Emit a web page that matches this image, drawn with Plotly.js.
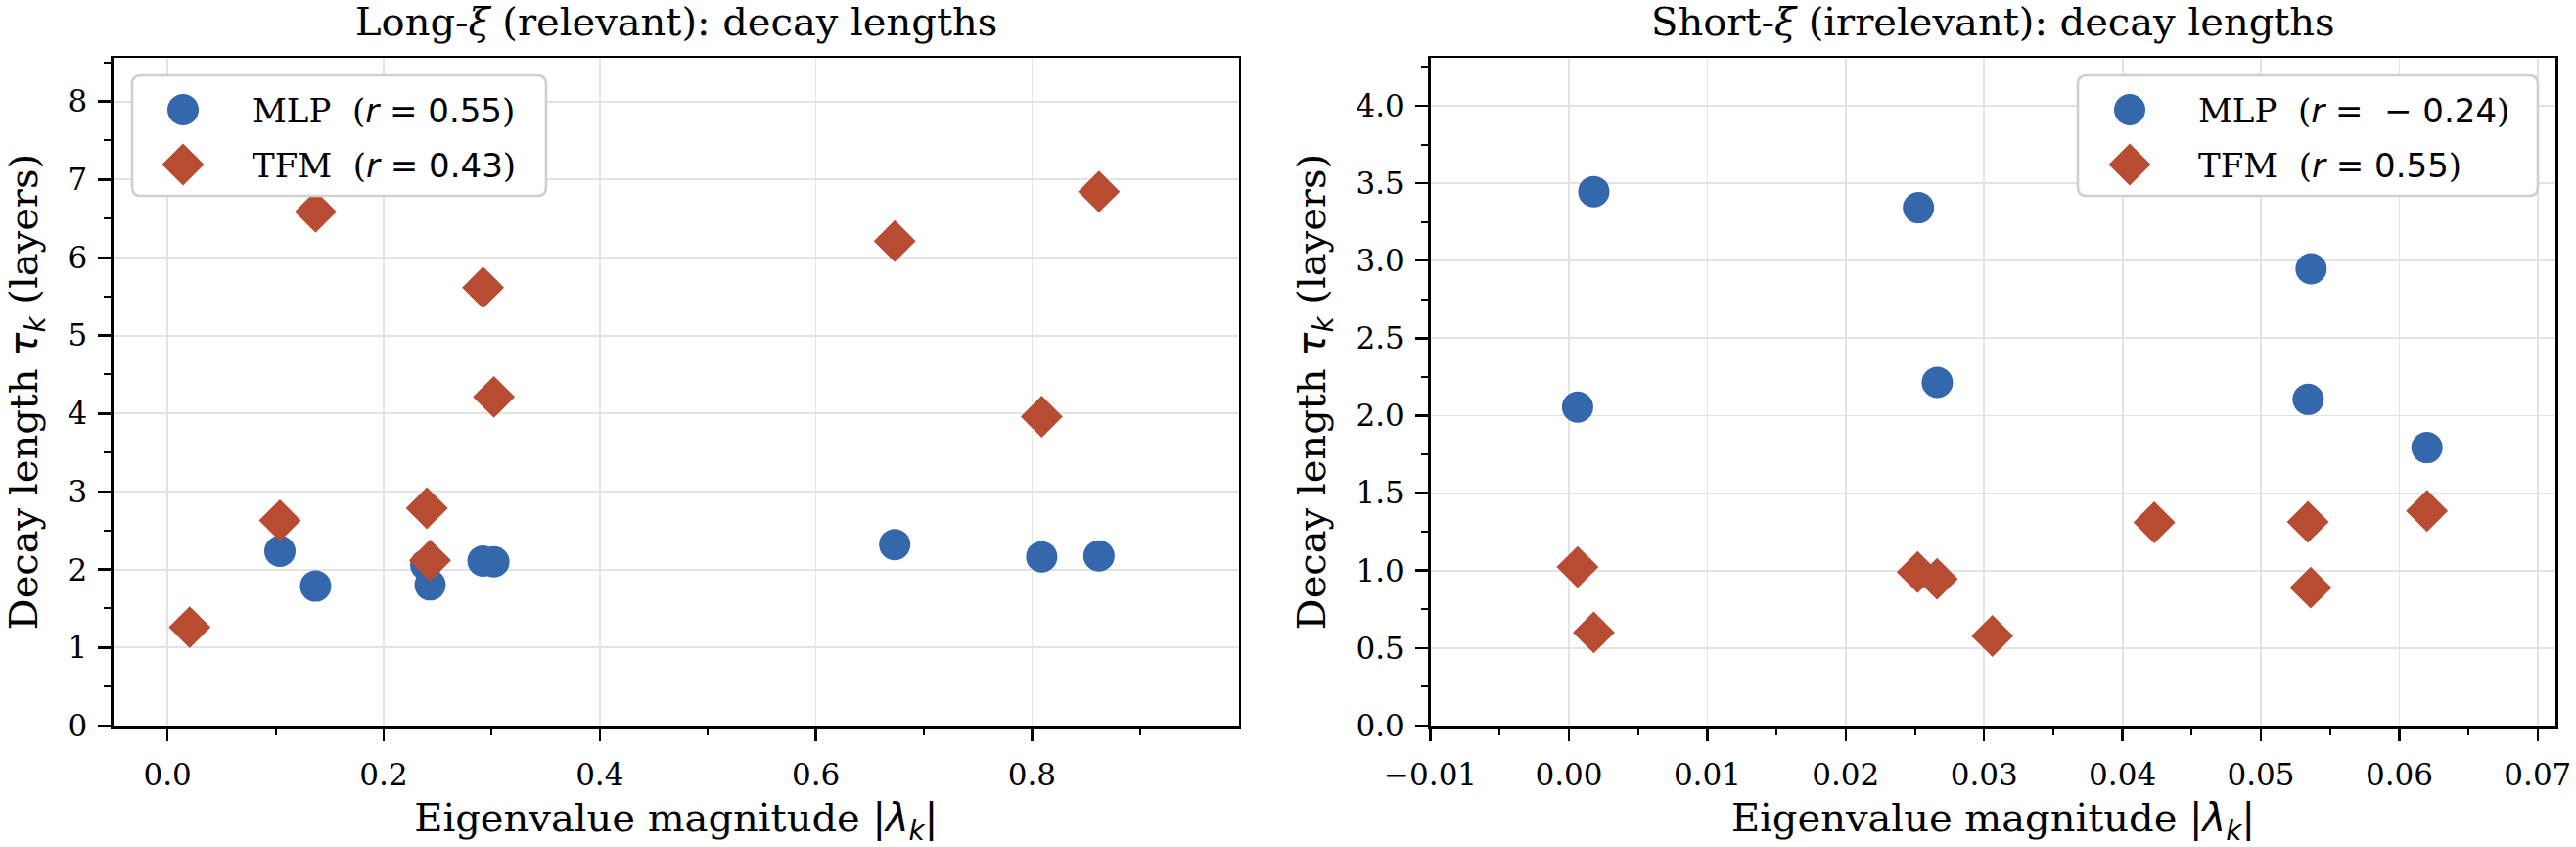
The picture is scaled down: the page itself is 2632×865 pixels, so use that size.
<!DOCTYPE html>
<html>
<head>
<meta charset="utf-8">
<script src="https://cdn.plot.ly/plotly-3.0.1.min.js"></script>
<style>
  html, body { margin: 0; padding: 0; background: #ffffff; }
  #chart { width: 2632px; height: 865px; }
</style>
</head>
<body>
<div id="chart"></div>
<script>
// Eigenvalue magnitude |λ_k| vs decay length τ_k, for the long-ξ (relevant)
// and short-ξ (irrelevant) modes of the MLP and transformer (TFM) models.

const seriesNames = ['MLP', 'TFM'];
const seriesColors = ['#3567ac', '#b74c32'];

// Long-ξ (relevant) modes
const longMlpLambda = [0.104, 0.137, 0.239, 0.243, 0.292, 0.302, 0.673, 0.809, 0.862];
const longMlpTau    = [2.234, 1.787, 2.06, 1.803, 2.11, 2.10, 2.32, 2.163, 2.175];
const longTfmLambda = [0.0205, 0.104, 0.137, 0.240, 0.243, 0.292, 0.302, 0.673, 0.809, 0.862];
const longTfmTau    = [1.26, 2.63, 6.586, 2.787, 2.117, 5.615, 4.213, 6.21, 3.96, 6.845];
const longCorr      = ['0.55', '0.43'];

// Short-ξ (irrelevant) modes
const shortMlpLambda = [0.00063, 0.0018, 0.02526, 0.02662, 0.05342, 0.05363, 0.0620];
const shortMlpTau    = [2.055, 3.446, 3.342, 2.215, 2.105, 2.948, 1.794];
const shortTfmLambda = [0.00063, 0.0018, 0.0252, 0.0266, 0.0306, 0.0423, 0.0534, 0.0536, 0.0620];
const shortTfmTau    = [1.023, 0.601, 0.99, 0.947, 0.578, 1.311, 1.315, 0.89, 1.385];
const shortCorr      = ['\u22120.24', '0.55'];

const panelTitles = ['Long-<i>ξ</i> (relevant): decay lengths', 'Short-<i>ξ</i> (irrelevant): decay lengths'];

// ---- page geometry (pixels) ----
const W = 2632, H = 865;
const plotTop = 59.3, plotBottom = 741;
const leftPlot  = [116, 1265.6];
const rightPlot = [1461.6, 2611.2];
const px = v => v / W;
const py = v => 1 - v / H;

const SERIF = 'DejaVu Serif';
const SANS = 'DejaVu Sans';
const math = s => '<span style="font-family:' + SANS + '">' + s + '</span>';

const markerFor = i => i === 0
  ? { symbol: 'circle', size: 32, color: seriesColors[0], line: { width: 0 } }
  : { symbol: 'diamond', size: 33, color: seriesColors[1], line: { width: 0 } };

function scatter(x, y, i, xa, ya) {
  return {
    type: 'scatter', mode: 'markers', x: x, y: y,
    name: seriesNames[i], xaxis: xa, yaxis: ya,
    marker: markerFor(i), showlegend: false, hoverinfo: 'skip', cliponaxis: true
  };
}

const traces = [
  scatter(longMlpLambda, longMlpTau, 0, 'x', 'y'),
  scatter(longTfmLambda, longTfmTau, 1, 'x', 'y'),
  scatter(shortMlpLambda, shortMlpTau, 0, 'x2', 'y2'),
  scatter(shortTfmLambda, shortTfmTau, 1, 'x2', 'y2')
];

// axis limits follow the data: a little head-room above and to the right
const maxOf = arrs => Math.max.apply(null, [].concat.apply([], arrs));
const longXRange  = [-0.05, maxOf([longMlpLambda, longTfmLambda]) * 1.15];
const shortXRange = [-0.01, maxOf([shortMlpLambda, shortTfmLambda]) * 1.15];
const longYRange  = [0, maxOf([longMlpTau, longTfmTau]) * 1.25];
const shortYRange = [0, maxOf([shortMlpTau, shortTfmTau]) * 1.25];

const tickFont = { family: SERIF, size: 31, color: '#000' };
const labelFont = { family: SERIF, size: 40, color: '#000' };

function xAxis(domain, range, dtick, fmt, anchor) {
  return {
    domain: domain, range: range, anchor: anchor,
    tick0: 0, dtick: dtick, tickformat: fmt,
    ticks: 'outside', ticklen: 13, tickwidth: 2.5, tickcolor: '#000',
    minor: { dtick: dtick / 2, ticks: 'outside', ticklen: 7, tickwidth: 2, tickcolor: '#000', showgrid: false },
    showline: true, linecolor: '#000', linewidth: 2.6, mirror: true,
    showgrid: true, gridcolor: '#e3e3e3', gridwidth: 1.8,
    zeroline: false, tickfont: tickFont, ticklabelstandoff: 8,
    title: { text: 'Eigenvalue magnitude ' + math('|<i>λ</i><sub><i>k</i></sub>|'), font: labelFont, standoff: 14 },
    fixedrange: true
  };
}
function yAxis(domain, range, dtick, fmt, anchor) {
  return {
    domain: domain, range: range, anchor: anchor,
    tick0: 0, dtick: dtick, tickformat: fmt,
    ticks: 'outside', ticklen: 13, tickwidth: 2.5, tickcolor: '#000',
    minor: { dtick: dtick / 2, ticks: 'outside', ticklen: 7, tickwidth: 2, tickcolor: '#000', showgrid: false },
    showline: true, linecolor: '#000', linewidth: 2.6, mirror: true,
    showgrid: true, gridcolor: '#e3e3e3', gridwidth: 1.8,
    zeroline: false, tickfont: tickFont, ticklabelstandoff: 5,
    title: { text: 'Decay length ' + math('<i>τ</i><sub><i>k</i></sub>') + ' (layers)', font: labelFont, standoff: 19 },
    fixedrange: true
  };
}

const yDom = [py(plotBottom), py(plotTop)];

// ---- legends: rounded frame, marker glyphs and labels ----
const shapes = [];
const annotations = [];

function roundedBox(cx, cy, w, h, r) {
  const a = w / 2, b = h / 2;
  return 'M' + (-a + r) + ',' + (-b) + ' L' + (a - r) + ',' + (-b) +
    ' Q' + a + ',' + (-b) + ' ' + a + ',' + (-b + r) +
    ' L' + a + ',' + (b - r) + ' Q' + a + ',' + b + ' ' + (a - r) + ',' + b +
    ' L' + (-a + r) + ',' + b + ' Q' + (-a) + ',' + b + ' ' + (-a) + ',' + (b - r) +
    ' L' + (-a) + ',' + (-b + r) + ' Q' + (-a) + ',' + (-b) + ' ' + (-a + r) + ',' + (-b) + ' Z';
}

function legend(box, markX, textX, rowsY, corr) {
  const cx = (box[0] + box[1]) / 2, cy = (box[2] + box[3]) / 2;
  shapes.push({
    type: 'path', xref: 'paper', yref: 'paper', layer: 'above',
    xsizemode: 'pixel', ysizemode: 'pixel', xanchor: px(cx), yanchor: py(cy),
    path: roundedBox(cx, cy, box[1] - box[0], box[3] - box[2], 9),
    fillcolor: '#ffffff', line: { color: '#cfcfcf', width: 2.6 }
  });
  // circle glyph
  shapes.push({
    type: 'circle', xref: 'paper', yref: 'paper', layer: 'above',
    xsizemode: 'pixel', ysizemode: 'pixel', xanchor: px(markX), yanchor: py(rowsY[0]),
    x0: -16, x1: 16, y0: -16, y1: 16,
    fillcolor: seriesColors[0], line: { width: 0 }
  });
  // diamond glyph
  shapes.push({
    type: 'path', xref: 'paper', yref: 'paper', layer: 'above',
    xsizemode: 'pixel', ysizemode: 'pixel', xanchor: px(markX), yanchor: py(rowsY[1]),
    path: 'M-21.5,0 L0,21.5 L21.5,0 L0,-21.5 Z',
    fillcolor: seriesColors[1], line: { width: 0 }
  });
  for (let i = 0; i < 2; i++) {
    const eq = corr[i].charAt(0) === '\u2212'
      ? '<i>r</i> =\u00a0\u00a0\u2212\u00a0' + corr[i].slice(1)
      : '<i>r</i> = ' + corr[i];
    annotations.push({
      xref: 'paper', yref: 'paper', x: px(textX), y: py(rowsY[i] + 1),
      xanchor: 'left', yanchor: 'middle', showarrow: false,
      text: seriesNames[i] + '\u00a0\u00a0(' + math(eq) + ')',
      font: { family: SERIF, size: 34, color: '#000' }
    });
  }
}

legend([135, 558, 77, 200], 187, 256, [112, 168], longCorr);
legend([2123, 2593, 77, 200], 2176, 2244, [112, 168], shortCorr);

// panel titles
[leftPlot, rightPlot].forEach((p, i) => {
  annotations.push({
    xref: 'paper', yref: 'paper', x: px((p[0] + p[1]) / 2), y: py(22),
    xanchor: 'center', yanchor: 'middle', showarrow: false,
    text: panelTitles[i], font: labelFont
  });
});

const layout = {
  width: W, height: H,
  margin: { l: 0, r: 0, t: 0, b: 0, pad: 0 },
  paper_bgcolor: '#ffffff', plot_bgcolor: '#ffffff',
  showlegend: false,
  xaxis:  xAxis([px(leftPlot[0]), px(leftPlot[1])], longXRange, 0.2, '.1f', 'y'),
  yaxis:  yAxis(yDom, longYRange, 1, 'd', 'x'),
  xaxis2: xAxis([px(rightPlot[0]), px(rightPlot[1])], shortXRange, 0.01, '.2f', 'y2'),
  yaxis2: yAxis(yDom, shortYRange, 0.5, '.1f', 'x2'),
  shapes: shapes,
  annotations: annotations,
  font: { family: SERIF, color: '#000' }
};

Plotly.newPlot('chart', traces, layout, { displayModeBar: false, staticPlot: true });
</script>
</body>
</html>
